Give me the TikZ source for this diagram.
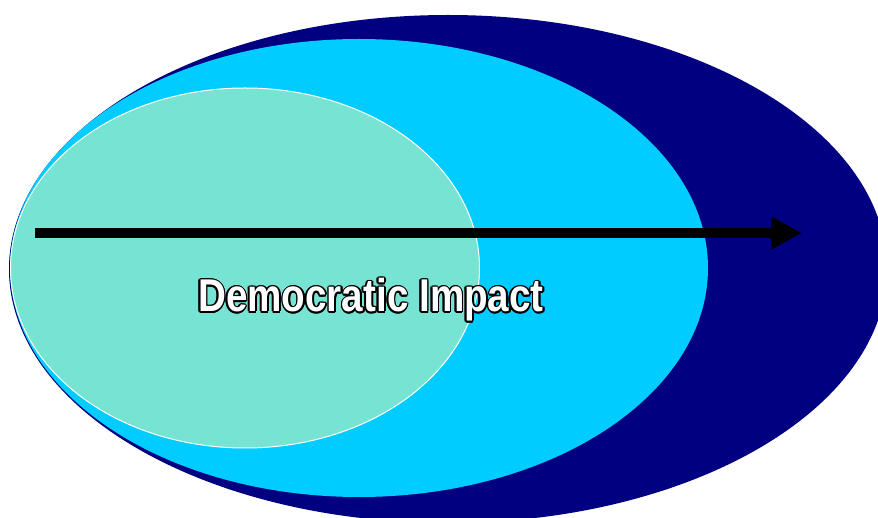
\documentclass[tikz,border=0pt]{standalone}
\usepackage{fontspec}
\setmainfont{Liberation Sans}
\usetikzlibrary{shapes.geometric,arrows.meta,calc}
\definecolor{navyc}{HTML}{000080}
\definecolor{skyc}{HTML}{00CCFF}
\definecolor{tealc}{HTML}{77E3D2}
\newcommand\demtext{\scalebox{0.84}[1]{\fontsize{46}{52}\selectfont\bfseries Democratic Impact}}
\tikzset{
  blob/.style={ellipse, inner sep=0pt, outer sep=0pt},
  lbl/.style={inner sep=0pt, anchor=base},
}
\begin{document}
\begin{tikzpicture}[x=1pt,y=-1pt]
\useasboundingbox (0,0) rectangle (878,518);
\clip (0,0) rectangle (878,518);
\node[blob, fill=navyc, minimum width=878pt, minimum height=508pt] (outer) at (448,269) {};
\node[blob, fill=skyc, minimum width=698pt, minimum height=458pt] (mid) at (359,268) {};
\node[blob, fill=tealc, draw=white, line width=1pt, minimum width=469pt, minimum height=360pt] (inner) at (245,268) {};
\coordinate (as) at (35,233);
\coordinate (ae) at (802,233);
\draw[line width=10pt, -{Triangle[length=31pt,width=31pt]}] (as) -- (ae);
\coordinate (tc) at (371,312);
\foreach \a [count=\i] in {0,30,...,330}
  \node[lbl, text=black] (sh\i) at ($(tc)+(\a:1.7)$) {\demtext};
\node[lbl, text=white] (txt) at (tc) {\demtext};
\end{tikzpicture}
\end{document}
